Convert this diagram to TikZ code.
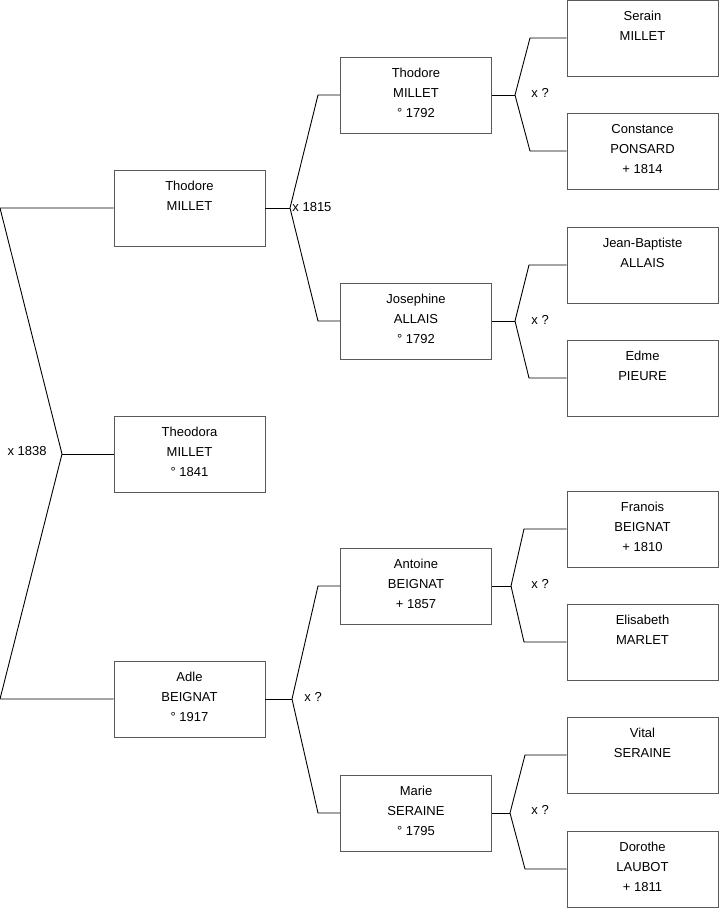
\documentclass[tikz,border=0pt]{standalone}
\usepackage{fontspec}
\setmainfont{Liberation Sans}
\begin{document}
\begin{tikzpicture}[x=1pt, y=-1pt, line width=0.9pt,
  person/.style={draw=black!65, align=center, minimum width=151pt, minimum height=76pt,
    inner sep=0pt, font=\fontsize{13}{20}\selectfont,
    execute at end node=\rule[-4pt]{0pt}{0pt}},
  mlabel/.style={inner sep=0pt, font=\fontsize{13}{15}\selectfont}]
\useasboundingbox (0,0) rectangle (719,908);
% first generation
\node[person] (thodore) at (189.5,208) {Thodore\\MILLET\\\mbox{}};
\node[person] (theodora) at (189.5,454) {Theodora\\MILLET\\° 1841};
\node[person] (adele) at (189.5,699) {Adle\\BEIGNAT\\° 1917};
% parents
\node[person] (thodoreP) at (416,95) {Thodore\\MILLET\\° 1792};
\node[person] (josephine) at (416,321) {Josephine\\ALLAIS\\° 1792};
\node[person] (antoine) at (416,586) {Antoine\\BEIGNAT\\+ 1857};
\node[person] (marie) at (416,813) {Marie\\SERAINE\\° 1795};
% grandparents
\node[person] (serain) at (642.5,38) {Serain\\MILLET\\\mbox{}};
\node[person] (constance) at (642.5,151) {Constance\\PONSARD\\+ 1814};
\node[person] (jeanbaptiste) at (642.5,265) {Jean-Baptiste\\ALLAIS\\\mbox{}};
\node[person] (edme) at (642.5,378) {Edme\\PIEURE\\\mbox{}};
\node[person] (francois) at (642.5,529) {Franois\\BEIGNAT\\+ 1810};
\node[person] (elisabeth) at (642.5,642) {Elisabeth\\MARLET\\\mbox{}};
\node[person] (vital) at (642.5,755) {Vital\\SERAINE\\\mbox{}};
\node[person] (dorothe) at (642.5,869) {Dorothe\\LAUBOT\\+ 1811};
% marriages
\coordinate (j0) at (62,454);
\coordinate (c0a) at (0,208);
\coordinate (c0b) at (0,699);
\node[mlabel, anchor=east] (m0) at (47,451) {x 1838};
\draw (thodore.west) -- (c0a) -- (j0) -- (c0b) -- (adele.west);
\draw (j0) -- (theodora.west);

\coordinate (jA) at (290,208);
\coordinate (jB) at (292,699);
\node[mlabel, anchor=west] (mA) at (292,207) {x 1815};
\node[mlabel, anchor=west] (mB) at (304,697) {x ?};
\draw (thodore.east) -- (jA);
\draw (thodoreP.west) -- (318,95) -- (jA) -- (318,321) -- (josephine.west);
\draw (adele.east) -- (jB);
\draw (antoine.west) -- (318,586) -- (jB) -- (318,813) -- (marie.west);

\coordinate (jC) at (515,95);
\coordinate (jD) at (515,321);
\coordinate (jE) at (511,586);
\coordinate (jF) at (510,813);
\node[mlabel, anchor=west] (mC) at (531,93) {x ?};
\node[mlabel, anchor=west] (mD) at (531,320) {x ?};
\node[mlabel, anchor=west] (mE) at (531,584) {x ?};
\node[mlabel, anchor=west] (mF) at (531,810) {x ?};
\draw (thodoreP.east) -- (jC);
\draw (serain.west) -- (530,38) -- (jC) -- (530,151) -- (constance.west);
\draw (josephine.east) -- (jD);
\draw (jeanbaptiste.west) -- (529,265) -- (jD) -- (529,378) -- (edme.west);
\draw (antoine.east) -- (jE);
\draw (francois.west) -- (524,529) -- (jE) -- (524,642) -- (elisabeth.west);
\draw (marie.east) -- (jF);
\draw (vital.west) -- (525,755) -- (jF) -- (525,869) -- (dorothe.west);
\end{tikzpicture}
\end{document}
